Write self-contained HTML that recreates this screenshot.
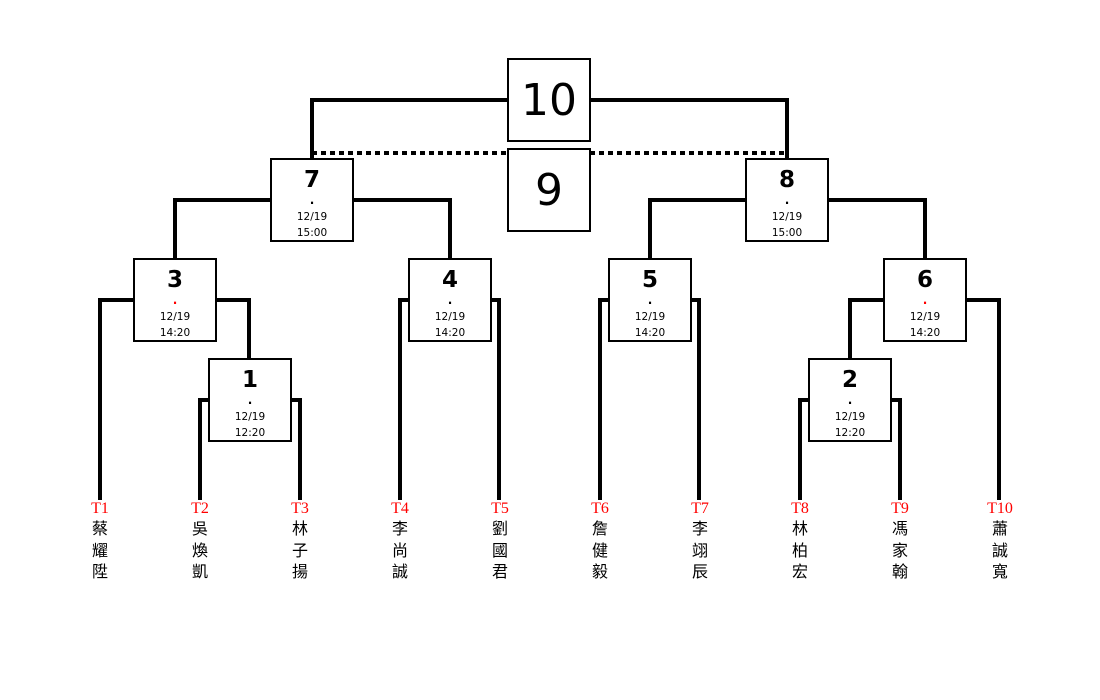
<!DOCTYPE html>
<html><head><meta charset="utf-8"><style>
html,body{margin:0;padding:0;background:#fff;}
svg{display:block}
.n{font-family:"DejaVu Sans","Liberation Sans",sans-serif;font-size:23px;font-weight:bold;text-anchor:middle;fill:#000}
.b{font-family:"DejaVu Sans","Liberation Sans",sans-serif;font-size:44px;text-anchor:middle;fill:#000}
.s{font-family:"DejaVu Sans","Liberation Sans",sans-serif;font-size:10.5px;text-anchor:middle;fill:#000}
.d{font-family:"DejaVu Sans",sans-serif;font-size:12px;font-weight:bold;text-anchor:middle;fill:#000}
.t{font-family:"Liberation Serif",serif;font-size:16px;text-anchor:middle;fill:#f00}
.c{font-family:"Liberation Sans","Noto Sans CJK TC",sans-serif;font-size:16px;text-anchor:middle;fill:#000}
</style></head><body>
<svg width="1100" height="700" viewBox="0 0 1100 700" xmlns="http://www.w3.org/2000/svg">
<g fill="none" stroke="#000" stroke-width="4">
<polyline points="507,100 312,100 312,158"/>
<polyline points="590,100 787,100 787,158"/>
<line x1="312" y1="153" x2="507" y2="153" stroke-dasharray="5,4"/>
<line x1="590" y1="153" x2="787" y2="153" stroke-dasharray="5,4"/>
<polyline points="270,200 175,200 175,258"/>
<polyline points="353,200 450,200 450,258"/>
<polyline points="745,200 650,200 650,258"/>
<polyline points="828,200 925,200 925,258"/>
<polyline points="133,300 100,300 100,500"/>
<polyline points="216,300 249,300 249,358"/>
<polyline points="408,300 400,300 400,500"/>
<polyline points="491,300 499,300 499,500"/>
<polyline points="608,300 600,300 600,500"/>
<polyline points="691,300 699,300 699,500"/>
<polyline points="883,300 850,300 850,358"/>
<polyline points="966,300 999,300 999,500"/>
<polyline points="208,400 200,400 200,500"/>
<polyline points="291,400 300,400 300,500"/>
<polyline points="808,400 800,400 800,500"/>
<polyline points="891,400 900,400 900,500"/>
</g>
<g fill="#fff" stroke="#000" stroke-width="2">
<rect x="508" y="59" width="82" height="82"/>
<rect x="508" y="149" width="82" height="82"/>
<rect x="271" y="159" width="82" height="82"/>
<rect x="746" y="159" width="82" height="82"/>
<rect x="134" y="259" width="82" height="82"/>
<rect x="409" y="259" width="82" height="82"/>
<rect x="609" y="259" width="82" height="82"/>
<rect x="884" y="259" width="82" height="82"/>
<rect x="209" y="359" width="82" height="82"/>
<rect x="809" y="359" width="82" height="82"/>
</g>
<text x="549" y="115" class="b">10</text>
<text x="549" y="205" class="b">9</text>
<g>
<text x="312" y="187" class="n">7</text><text x="312" y="204" class="d">.</text><text x="312" y="220" class="s">12/19</text><text x="312" y="236" class="s">15:00</text>
<text x="787" y="187" class="n">8</text><text x="787" y="204" class="d">.</text><text x="787" y="220" class="s">12/19</text><text x="787" y="236" class="s">15:00</text>
<text x="175" y="287" class="n">3</text><text x="175" y="304" class="d" style="fill:#f00">.</text><text x="175" y="320" class="s">12/19</text><text x="175" y="336" class="s">14:20</text>
<text x="450" y="287" class="n">4</text><text x="450" y="304" class="d">.</text><text x="450" y="320" class="s">12/19</text><text x="450" y="336" class="s">14:20</text>
<text x="650" y="287" class="n">5</text><text x="650" y="304" class="d">.</text><text x="650" y="320" class="s">12/19</text><text x="650" y="336" class="s">14:20</text>
<text x="925" y="287" class="n">6</text><text x="925" y="304" class="d" style="fill:#f00">.</text><text x="925" y="320" class="s">12/19</text><text x="925" y="336" class="s">14:20</text>
<text x="250" y="387" class="n">1</text><text x="250" y="404" class="d">.</text><text x="250" y="420" class="s">12/19</text><text x="250" y="436" class="s">12:20</text>
<text x="850" y="387" class="n">2</text><text x="850" y="404" class="d">.</text><text x="850" y="420" class="s">12/19</text><text x="850" y="436" class="s">12:20</text>
</g>
<g>
<text x="100" y="513" class="t">T1</text><text x="100" y="534" class="c">蔡</text><text x="100" y="556" class="c">耀</text><text x="100" y="577" class="c">陞</text>
<text x="200" y="513" class="t">T2</text><text x="200" y="534" class="c">吳</text><text x="200" y="556" class="c">煥</text><text x="200" y="577" class="c">凱</text>
<text x="300" y="513" class="t">T3</text><text x="300" y="534" class="c">林</text><text x="300" y="556" class="c">子</text><text x="300" y="577" class="c">揚</text>
<text x="400" y="513" class="t">T4</text><text x="400" y="534" class="c">李</text><text x="400" y="556" class="c">尚</text><text x="400" y="577" class="c">誠</text>
<text x="500" y="513" class="t">T5</text><text x="500" y="534" class="c">劉</text><text x="500" y="556" class="c">國</text><text x="500" y="577" class="c">君</text>
<text x="600" y="513" class="t">T6</text><text x="600" y="534" class="c">詹</text><text x="600" y="556" class="c">健</text><text x="600" y="577" class="c">毅</text>
<text x="700" y="513" class="t">T7</text><text x="700" y="534" class="c">李</text><text x="700" y="556" class="c">翊</text><text x="700" y="577" class="c">辰</text>
<text x="800" y="513" class="t">T8</text><text x="800" y="534" class="c">林</text><text x="800" y="556" class="c">柏</text><text x="800" y="577" class="c">宏</text>
<text x="900" y="513" class="t">T9</text><text x="900" y="534" class="c">馮</text><text x="900" y="556" class="c">家</text><text x="900" y="577" class="c">翰</text>
<text x="1000" y="513" class="t">T10</text><text x="1000" y="534" class="c">蕭</text><text x="1000" y="556" class="c">誠</text><text x="1000" y="577" class="c">寬</text>
</g>
</svg>
</body></html>
